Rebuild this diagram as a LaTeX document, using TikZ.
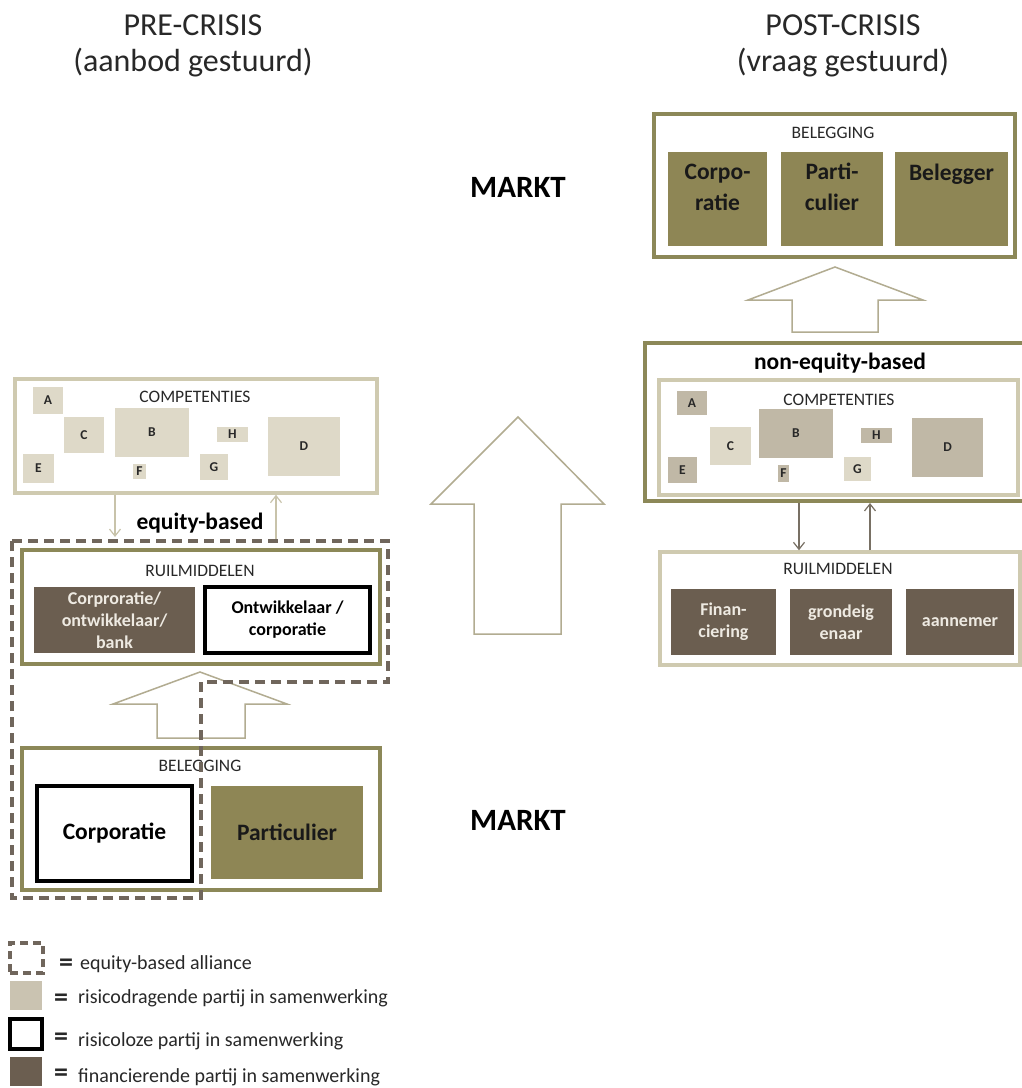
\documentclass[tikz,border=0pt]{standalone}
\usepackage{fontspec}
\setmainfont{Carlito}
\usetikzlibrary{arrows.meta}

\newcommand\fsz[2]{\fontsize{#1}{#2}\selectfont}

\definecolor{oliveline}{RGB}{140,136,88}
\definecolor{sandline}{RGB}{207,202,176}
\definecolor{sandfill}{RGB}{222,217,200}
\definecolor{taupefill}{RGB}{192,184,166}
\definecolor{legendfill}{RGB}{202,195,177}
\definecolor{olivefill}{RGB}{142,134,85}
\definecolor{brownfill}{RGB}{107,94,80}
\definecolor{dashcol}{RGB}{112,102,92}
\definecolor{arrowline}{RGB}{178,172,145}
\definecolor{thinlight}{RGB}{200,195,170}
\definecolor{thindark}{RGB}{120,112,100}
\definecolor{lighttext}{RGB}{238,234,226}
\definecolor{inktext}{RGB}{40,40,40}

\begin{document}
\begin{tikzpicture}[x=1pt,y=-1pt,
  sz/.style 2 args={minimum width=#1pt, minimum height=#2pt},
  hdr/.style={font=\fsz{32}{36}, text=inktext, inner sep=0pt},
  caption/.style={font=\fsz{17.5}{20}, text=inktext, inner sep=0pt},
  markt/.style={font=\fsz{31}{36}\bfseries, text=black, inner sep=0pt},
  tag/.style={font=\fsz{23.5}{28}\bfseries, text=black, inner sep=0pt},
  boxolive/.style={draw=oliveline, line width=3.5pt, inner sep=0pt},
  boxsand/.style={draw=sandline, line width=3.5pt, inner sep=0pt},
  tilelight/.style={fill=sandfill, inner sep=0pt, text=inktext, font=\fsz{13.5}{16}\bfseries},
  tiledark/.style={fill=taupefill, inner sep=0pt, text=inktext, font=\fsz{13.5}{16}\bfseries},
  party/.style={inner sep=0pt, align=center, font=\fsz{18}{22}\bfseries},
  financer/.style={party, fill=brownfill, text=lighttext},
  riskfree/.style={party, draw=black, line width=3.5pt, text=black},
  investor/.style={inner sep=0pt, fill=olivefill},
  investortext/.style={inner sep=0pt, align=center, text=black!90, font=\fsz{23.5}{31}\bfseries},
  blockarrow/.style={draw=arrowline, line width=1.5pt, line join=miter},
  link/.style={line width=1.2pt, -{Straight Barb[length=7pt,width=11pt]}},
  alliance/.style={draw=dashcol, line width=3.5pt, dash pattern=on 10pt off 6pt},
  legtext/.style={font=\fsz{20}{24}, text=inktext, anchor=west, inner sep=0pt},
  eqsign/.style={font=\fsz{28}{30}\bfseries, text=inktext, inner sep=0pt, anchor=base}
]
\clip (0,0) rectangle (1022,1088);
\fill[white] (0,0) rectangle (1022,1088);

% ---------- headings ----------
\node[hdr, anchor=base] (preT) at (193,35) {PRE-CRISIS};
\node[hdr, anchor=base] (preS) at (193,71) {(aanbod gestuurd)};
\node[hdr, anchor=base] (postT) at (843,35) {POST-CRISIS};
\node[hdr, anchor=base] (postS) at (843,71) {(vraag gestuurd)};

\node[markt, anchor=base] (marktTop) at (518,197) {MARKT};
\node[markt, anchor=base] (marktBot) at (518,830) {MARKT};

% ---------- pre-crisis: competences ----------
\node[boxsand, sz={362}{114}] (compL) at (196,436) {};
\node[caption] (compLt) at (195,397) {COMPETENTIES};
\node[tilelight, sz={30}{27}] (aL) at (48,400.5) {A};
\node[tilelight, sz={40}{36}] (cL) at (84,435) {C};
\node[tilelight, sz={74}{49}] (bL) at (152,432.5) {B};
\node[tilelight, sz={31}{15}] (hL) at (232.5,434.5) {H};
\node[tilelight, sz={72}{59}] (dL) at (304,446.5) {D};
\node[tilelight, sz={31}{29}] (eL) at (38.5,468.5) {E};
\node[tilelight, sz={13}{15}] (fL) at (139.5,471.5) {F};
\node[tilelight, sz={28}{26}] (gL) at (214,467) {G};

\node[tag] (eqb) at (200,523) {equity-based};

% ---------- pre-crisis: exchange means ----------
\node[boxolive, sz={358}{114}] (ruilL) at (201,607) {};
\node[caption] (ruilLt) at (200,571) {RUILMIDDELEN};
\node[financer, sz={161}{66}] (finL) at (114.5,620) {Corproratie/\\ontwikkelaar/\\bank};
\node[riskfree, sz={165}{66}] (ontL) at (287.5,620) {Ontwikkelaar /\\corporatie};

\coordinate (dnL) at (115,537);
\coordinate (upL) at (276,541);
\draw[link, draw=thinlight] (compL.south -| dnL) -- (dnL);
\draw[link, draw=thinlight] (upL) -- (compL.south -| upL);

% ---------- pre-crisis: investment ----------
\draw[blockarrow] (200,672) -- (287,704) -- (245,704) -- (245,738)
  -- (157,738) -- (157,704) -- (113,704) -- cycle;

\node[boxolive, sz={358}{142}] (belL) at (201,819) {};
\node[caption] (belLt) at (200,766) {BELEGGING};
\node[riskfree, sz={155}{95}, font=\fsz{23.5}{28}\bfseries] (corpL) at (114.5,833.5) {Corporatie};
\node[investor, sz={152}{93}, text=black!90, font=\fsz{23.5}{28}\bfseries] (partL) at (287,832.5) {Particulier};

% equity-based alliance outline
\coordinate (al1) at (12,541);
\coordinate (al2) at (388,541);
\coordinate (al3) at (388,682);
\coordinate (al4) at (201,682);
\coordinate (al5) at (201,898);
\coordinate (al6) at (12,898);
\draw[alliance] (al1) -- (al2) -- (al3) -- (al4) -- (al5) -- (al6) -- cycle;

% ---------- central transition arrow ----------
\draw[blockarrow] (518,417) -- (604,504) -- (561,504) -- (561,634)
  -- (474,634) -- (474,504) -- (431,504) -- cycle;

% ---------- post-crisis: investment ----------
\node[boxolive, line width=4pt, sz={361}{143}] (belR) at (834.5,185.5) {};
\node[caption] (belRt) at (833,133) {BELEGGING};
\node[investor, sz={99}{94}] (corpR) at (717.5,199) {};
\node[investor, sz={102}{94}] (partR) at (832,199) {};
\node[investor, sz={113}{94}] (belgR) at (951.5,199) {};
\node[investortext, anchor=base] (corpRt) at (717.5,210) {Corpo-\\ratie};
\node[investortext, anchor=base] (partRt) at (832,210) {Parti-\\culier};
\node[investortext, anchor=base] (belgRt) at (951.5,180) {Belegger};

\draw[blockarrow] (835,267) -- (923,300) -- (878,300) -- (878,332)
  -- (792,332) -- (792,300) -- (748,300) -- cycle;

% ---------- post-crisis: competences ----------
\node[boxolive, line width=4pt, sz={385}{158}] (neR) at (837.5,422) {};
\node[tag] (neqb) at (840,363) {non-equity-based};
\node[boxsand, sz={359}{115}] (compR) at (838.5,437.5) {};
\node[caption] (compRt) at (839,400) {COMPETENTIES};
\node[tiledark, sz={30}{24}] (aR) at (692,403) {A};
\node[tilelight, sz={41}{38}] (cR) at (730.5,446) {C};
\node[tiledark, sz={74}{49}] (bR) at (796,433.5) {B};
\node[tiledark, sz={31}{15}] (hR) at (876.5,435.5) {H};
\node[tiledark, sz={71}{59}] (dR) at (947.5,447.5) {D};
\node[tiledark, sz={29}{26}] (eR) at (682.5,470) {E};
\node[tiledark, sz={11}{17}] (fR) at (783.5,473.5) {F};
\node[tilelight, sz={27}{24}] (gR) at (857.5,469) {G};

% ---------- post-crisis: exchange means ----------
\node[boxsand, sz={360}{113}] (ruilR) at (840,608.5) {};
\node[caption] (ruilRt) at (838,569) {RUILMIDDELEN};
\node[financer, sz={105}{66}] (finR) at (723.5,622) {Finan-\\ciering};
\node[financer, sz={102}{66}] (grondR) at (841,622) {grondeig\\enaar};
\node[financer, sz={108}{66}] (aannR) at (960,622) {aannemer};

\coordinate (dnR) at (799,0);
\coordinate (upR) at (870,0);
\draw[link, draw=thindark] (neR.south -| dnR) -- (ruilR.north -| dnR);
\draw[link, draw=thindark] (ruilR.north -| upR) -- (neR.south -| upR);

% ---------- legend ----------
\node[draw=dashcol, line width=3.5pt, dash pattern=on 8pt off 5pt, sz={33}{30}, inner sep=0pt] (lg1) at (26.5,958) {};
\node[fill=legendfill, sz={32}{29}, inner sep=0pt] (lg2) at (26,995.5) {};
\node[draw=black, line width=4pt, sz={32}{30}, inner sep=0pt] (lg3) at (26,1034) {};
\node[fill=brownfill, sz={32}{29}, inner sep=0pt] (lg4) at (26,1071.5) {};

\node[eqsign] (eq1) at (66,971) {=};
\node[eqsign] (eq2) at (61,1006) {=};
\node[eqsign] (eq3) at (61,1045) {=};
\node[eqsign] (eq4) at (61,1081) {=};

\node[legtext] (lt1) at (80,964) {equity-based alliance};
\node[legtext] (lt2) at (78,998) {risicodragende partij in samenwerking};
\node[legtext] (lt3) at (78,1041) {risicoloze partij in samenwerking};
\node[legtext] (lt4) at (78,1077) {financierende partij in samenwerking};
\end{tikzpicture}
\end{document}
